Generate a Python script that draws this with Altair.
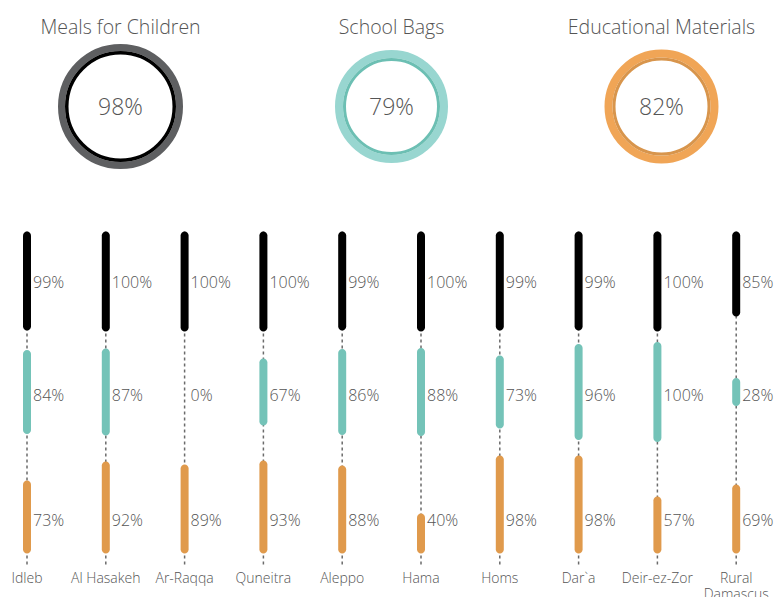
import altair as alt
import pandas as pd

# ---------------- data ----------------
programs = ["Meals for Children", "School Bags", "Educational Materials"]
overall = [98, 79, 82]

regions = ["Idleb", "Al Hasakeh", "Ar-Raqqa", "Quneitra", "Aleppo",
           "Hama", "Homs", "Dar`a", "Deir-ez-Zor", "Rural Damascus"]
meals = [99, 100, 100, 100, 99, 100, 99, 99, 100, 85]
bags = [84, 87, 0, 67, 86, 88, 73, 96, 100, 28]
materials = [73, 92, 89, 93, 88, 40, 98, 98, 57, 69]

# ---------------- style / layout ----------------
W, H = 766, 600
FONT = "Open Sans"
TXT = "#555555"
bar_colors = ["#000000", "#74c3b8", "#e09a4c"]
ring_outer = ["#5e5f61", "#98d6d0", "#f0a556"]
ring_inner = ["#000000", "#6cbfb3", "#d8954c"]
ring_r = [(62.5, 55.5, 52.0), (56.5, 48.5, 45.5), (57.0, 49.0, 46.0)]
col_px, col0_px = 78.8, 19.0              # column spacing and first column
ring_px = [112.5, 383.5, 653.5]           # ring centres (px)
ring_x = [(p - col0_px) / col_px for p in ring_px]
ring_y = 98.5
title_y = 26
x_dom = [-col0_px / col_px, (W - col0_px) / col_px]

# row anchors (vertical units, 1 unit = 1 %)
row_mode = ["top", "center", "bottom"]
row_anchor = [223.5, 384.0, 545.5]
row_label_y = [275, 388, 513]
line_top, line_bottom = 223.5, 559
cat_y = 575

xs = alt.Scale(domain=x_dom, range=[0, W], nice=False, zero=False, padding=0)
ys = alt.Scale(domain=[0, H], range=[0, H], nice=False, zero=False, padding=0)

# ---------------- frames ----------------
rows = []
for p_i, (prog, vals) in enumerate(zip(programs, [meals, bags, materials])):
    for c_i, (reg, v) in enumerate(zip(regions, vals)):
        a = row_anchor[p_i]
        if row_mode[p_i] == "top":
            y0, y1 = a, a + v
        elif row_mode[p_i] == "center":
            y0, y1 = a - v / 2, a + v / 2
        else:
            y0, y1 = a - v, a
        rows.append(dict(region=reg, col=c_i, program=prog, value=v,
                         y0=y0, y1=y1, ly=row_label_y[p_i],
                         label=f"{v}%"))
bars_df = pd.DataFrame(rows)

cats_df = pd.DataFrame(dict(
    col=list(range(len(regions))),
    name=[r.replace(" ", "\n") if len(r) > 12 else r for r in regions],
    ytop=line_top, ybot=line_bottom, ycat=cat_y,
))

color = alt.Color("program:N", scale=alt.Scale(domain=programs, range=bar_colors),
                  legend=None)

layers = []

# dashed guide lines
layers.append(
    alt.Chart(cats_df).mark_rule(color="#6b6b6b", strokeWidth=1.5, strokeDash=[3, 3])
    .encode(x=alt.X("col:Q", scale=xs, axis=None),
            y=alt.Y("ytop:Q", scale=ys, axis=None), y2="ybot:Q")
)

# bars
layers.append(
    alt.Chart(bars_df).mark_bar(width=8, cornerRadius=4)
    .encode(x=alt.X("col:Q", scale=xs, axis=None),
            y=alt.Y("y0:Q", scale=ys, axis=None), y2="y1:Q", color=color)
)

# value labels
layers.append(
    alt.Chart(bars_df).mark_text(align="left", baseline="middle", dx=6,
                                 font=FONT, fontSize=16, fontWeight=300, color=TXT)
    .encode(x=alt.X("col:Q", scale=xs, axis=None),
            y=alt.Y("ly:Q", scale=ys, axis=None), text="label:N")
)

# category labels
layers.append(
    alt.Chart(cats_df).mark_text(align="center", baseline="alphabetic", lineBreak="\n",
                                 lineHeight=16, font=FONT, fontSize=14, fontWeight=300,
                                 color=TXT)
    .encode(x=alt.X("col:Q", scale=xs, axis=None),
            y=alt.Y("ycat:Q", scale=ys, axis=None), text="name:N")
)

# rings (drawn as stroked circles)
for i, prog in enumerate(programs):
    rdf = pd.DataFrame(dict(program=[prog], pct=[f"{overall[i]}%"],
                            cx=[ring_x[i]], cy=[ring_y], ty=[title_y]))
    ro, rm, ri = ring_r[i]
    base = alt.Chart(rdf).encode(x=alt.X("cx:Q", scale=xs, axis=None),
                                 y=alt.Y("cy:Q", scale=ys, axis=None))
    outer_mid, outer_w = (ro + rm) / 2, ro - rm
    inner_mid, inner_w = (rm + ri) / 2, rm - ri
    layers.append(base.mark_point(shape="circle", filled=False, opacity=1,
                                  size=(2 * outer_mid) ** 2, strokeWidth=outer_w,
                                  color=ring_outer[i]))
    layers.append(base.mark_point(shape="circle", filled=False, opacity=1,
                                  size=(2 * inner_mid) ** 2, strokeWidth=inner_w,
                                  color=ring_inner[i]))
    layers.append(base.mark_text(align="center", baseline="middle", font=FONT,
                                 fontSize=23, fontWeight=300, color=TXT, dy=1.5)
                  .encode(text="pct:N"))
    layers.append(
        alt.Chart(rdf).mark_text(align="center", baseline="alphabetic", font=FONT,
                                 fontSize=19.5, fontWeight=300, color=TXT)
        .encode(x=alt.X("cx:Q", scale=xs, axis=None),
                y=alt.Y("ty:Q", scale=ys, axis=None), text="program:N")
    )

chart = (
    alt.layer(*layers)
    .properties(width=W, height=H, padding=0,
                autosize=alt.AutoSizeParams(type="none"))
    .configure_view(stroke=None)
)

chart.save("out.html", embed_options={"renderer": "svg", "actions": False})
